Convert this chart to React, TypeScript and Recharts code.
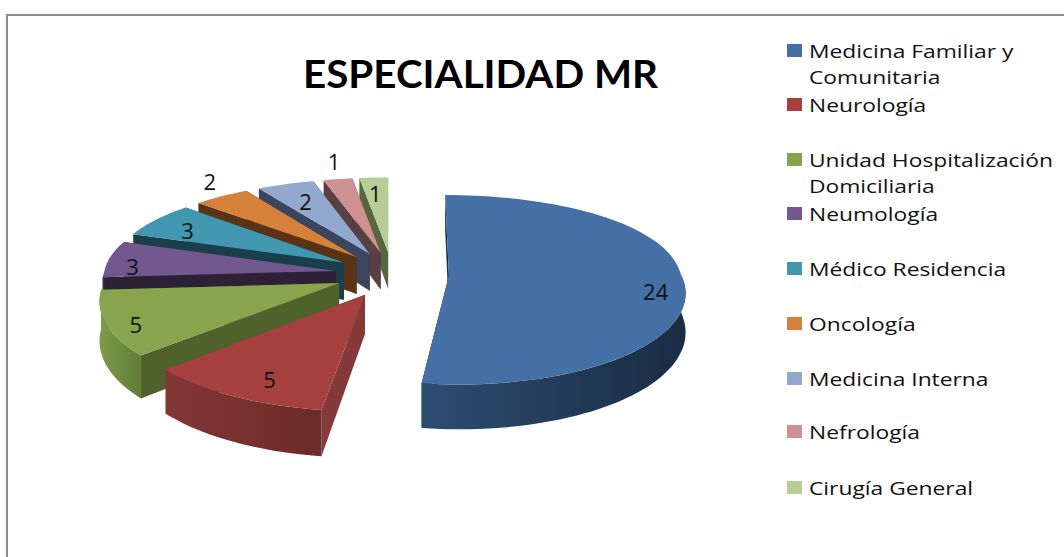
import { Legend, Pie, PieChart } from 'recharts';

const categories = [
  'Medicina Familiar y Comunitaria',
  'Neurología',
  'Unidad Hospitalización Domiciliaria',
  'Neumología',
  'Médico Residencia',
  'Oncología',
  'Medicina Interna',
  'Nefrología',
  'Cirugía General',
];
const values = [24, 5, 5, 3, 3, 2, 2, 1, 1];

const topColors = ['#4570a6', '#a5403f', '#88a44d', '#71588f', '#4197af', '#d5813b', '#92a8cf', '#cf9190', '#b8cc95'];
const cutColors = ['#1c3049', '#84393a', '#4f622b', '#2d2138', '#1a3f4a', '#5a3315', '#3a4560', '#5a3f42', '#56663f'];
const wallLeft = ['#2d4d73', '#823735', '#7e9c49', '#46365a', '#275d6c', '#854f24', '#5a6880', '#7f5958', '#708055'];
const wallRight = ['#1a2c42', '#6c2a28', '#607b38', '#36294a', '#1d4652', '#663c1b', '#46506a', '#624443', '#56633f'];

// label placement relative to the default spot on each slice
const labelNudge = [[31, 11], [0, 11], [-31, 11], [-33, 4], [-14, 0], [-44, -29], [0, 1], [-14, -35], [-2, -1]];
const legendCenters = [51, 105, 160, 214, 269, 324, 379, 432, 488];

const CX = 392;
const CY = 274;
const RADIUS = 232;
const TILT = 0.397;
const PERSPECTIVE = 0.15;
const PERSPECTIVE_FAR_X = 0.07;
const EXPLODE = 0.245;
const DEPTH = 38;
const RAD = Math.PI / 180;

// the table is reversed and the pie runs counter-clockwise so back slices paint first
const table = categories
  .map((name, index) => ({ name, value: values[index], index }))
  .reverse();

const project = (angle: number, reach: number, mid: number, drop = 0) => {
  const u = EXPLODE * Math.cos(mid * RAD) + reach * Math.cos(angle * RAD);
  const v = -EXPLODE * Math.sin(mid * RAD) - reach * Math.sin(angle * RAD);
  const w = 1 / (1 - PERSPECTIVE * v);
  const wx = v < 0 ? 1 / (1 - PERSPECTIVE_FAR_X * v) : w;
  return [CX + RADIUS * u * wx, CY + RADIUS * TILT * v * w + drop * w];
};

const toPath = (points: number[][]) =>
  'M' + points.map((p) => `${p[0].toFixed(1)},${p[1].toFixed(1)}`).join('L') + 'Z';

const arcAngles = (from: number, to: number) => {
  const steps = Math.max(2, Math.ceil(Math.abs(to - from) / 2));
  return Array.from({ length: steps + 1 }, (_, i) => from + ((to - from) * i) / steps);
};

const Slice3D = (props: any) => {
  const { startAngle, endAngle, payload } = props;
  const index = payload.index;
  const mid = (startAngle + endAngle) / 2;
  const angles = arcAngles(startAngle, endAngle);
  const top = [project(mid, 0, mid), ...angles.map((a) => project(a, 1, mid))];

  const cutWall = (a: number) =>
    toPath([project(a, 0, mid), project(a, 1, mid), project(a, 1, mid, DEPTH), project(a, 0, mid, DEPTH)]);

  // only the part of the rim that faces the viewer
  const lo = Math.min(startAngle, endAngle);
  const hi = Math.max(startAngle, endAngle);
  const rimFrom = Math.max(lo, 180);
  const rimTo = Math.min(hi, 360);
  const rim = rimTo > rimFrom ? arcAngles(rimFrom, rimTo) : [];
  const rimPath = rim.length
    ? toPath([
        ...rim.map((a) => project(a, 1, mid)),
        ...[...rim].reverse().map((a) => project(a, 1, mid, DEPTH)),
      ])
    : null;
  const gradientId = `rim-${index}`;

  return (
    <g>
      <defs>
        <linearGradient id={gradientId} x1="0" y1="0" x2="1" y2="0">
          <stop offset="0%" stopColor={wallLeft[index]} />
          <stop offset="100%" stopColor={wallRight[index]} />
        </linearGradient>
      </defs>
      <path d={cutWall(startAngle)} fill={cutColors[index]} />
      <path d={cutWall(endAngle)} fill={cutColors[index]} />
      {rimPath && <path d={rimPath} fill={`url(#${gradientId})`} />}
      <path d={toPath(top)} fill={topColors[index]} />
    </g>
  );
};

const renderLabel = (props: any) => {
  const { midAngle, payload, value } = props;
  const index = payload.index;
  const [x, y] = project(midAngle, 0.75, midAngle);
  return (
    <text
      x={x + labelNudge[index][0]}
      y={y + labelNudge[index][1]}
      textAnchor="middle"
      dominantBaseline="central"
      fontFamily="Open Sans"
      fontSize={22}
      fill="#111"
    >
      {value}
    </text>
  );
};

const LegendBlock = () => (
  <div style={{ position: 'absolute', left: 0, top: 0, width: 1064, height: 557, pointerEvents: 'none' }}>
    {categories.map((name, i) => (
      <div key={name}>
        <div
          style={{
            position: 'absolute',
            left: 787,
            top: legendCenters[i] - 7,
            width: 15,
            height: 13,
            background: topColors[i],
          }}
        />
        <div
          style={{
            position: 'absolute',
            left: 809,
            top: legendCenters[i] - 13,
            width: 208,
            lineHeight: '26px',
            fontFamily: 'Open Sans',
            fontSize: 19,
            color: '#111',
            transform: 'scaleX(1.2)',
            transformOrigin: 'left top',
          }}
        >
          {name}
        </div>
      </div>
    ))}
  </div>
);

export default function App() {
  return (
    <div style={{ position: 'absolute', left: 0, top: 0, width: 1064, height: 557, overflow: 'hidden', background: '#fff' }}>
      <div
        style={{
          position: 'absolute',
          left: 6,
          top: 14,
          width: 1100,
          height: 600,
          borderLeft: '2px solid #8c8c8c',
          borderTop: '2px solid #8c8c8c',
        }}
      />
      <PieChart width={1064} height={557} style={{ position: 'absolute', left: 0, top: 0 }}>
        <text
          x={303}
          y={73}
          dominantBaseline="central"
          fontFamily="Lato"
          fontWeight={700}
          fontSize={37.5}
          fill="#000"
          textLength={355}
          lengthAdjust="spacingAndGlyphs"
        >
          ESPECIALIDAD MR
        </text>
        <Pie
          data={table}
          dataKey="value"
          nameKey="name"
          cx={CX}
          cy={CY}
          outerRadius={RADIUS}
          startAngle={90}
          endAngle={450}
          stroke="none"
          labelLine={false}
          label={renderLabel}
          shape={Slice3D}
          isAnimationActive={false}
        />
        <Legend content={LegendBlock} wrapperStyle={{ position: 'absolute', left: 0, top: 0, width: 1064, height: 557 }} />
      </PieChart>
    </div>
  );
}
